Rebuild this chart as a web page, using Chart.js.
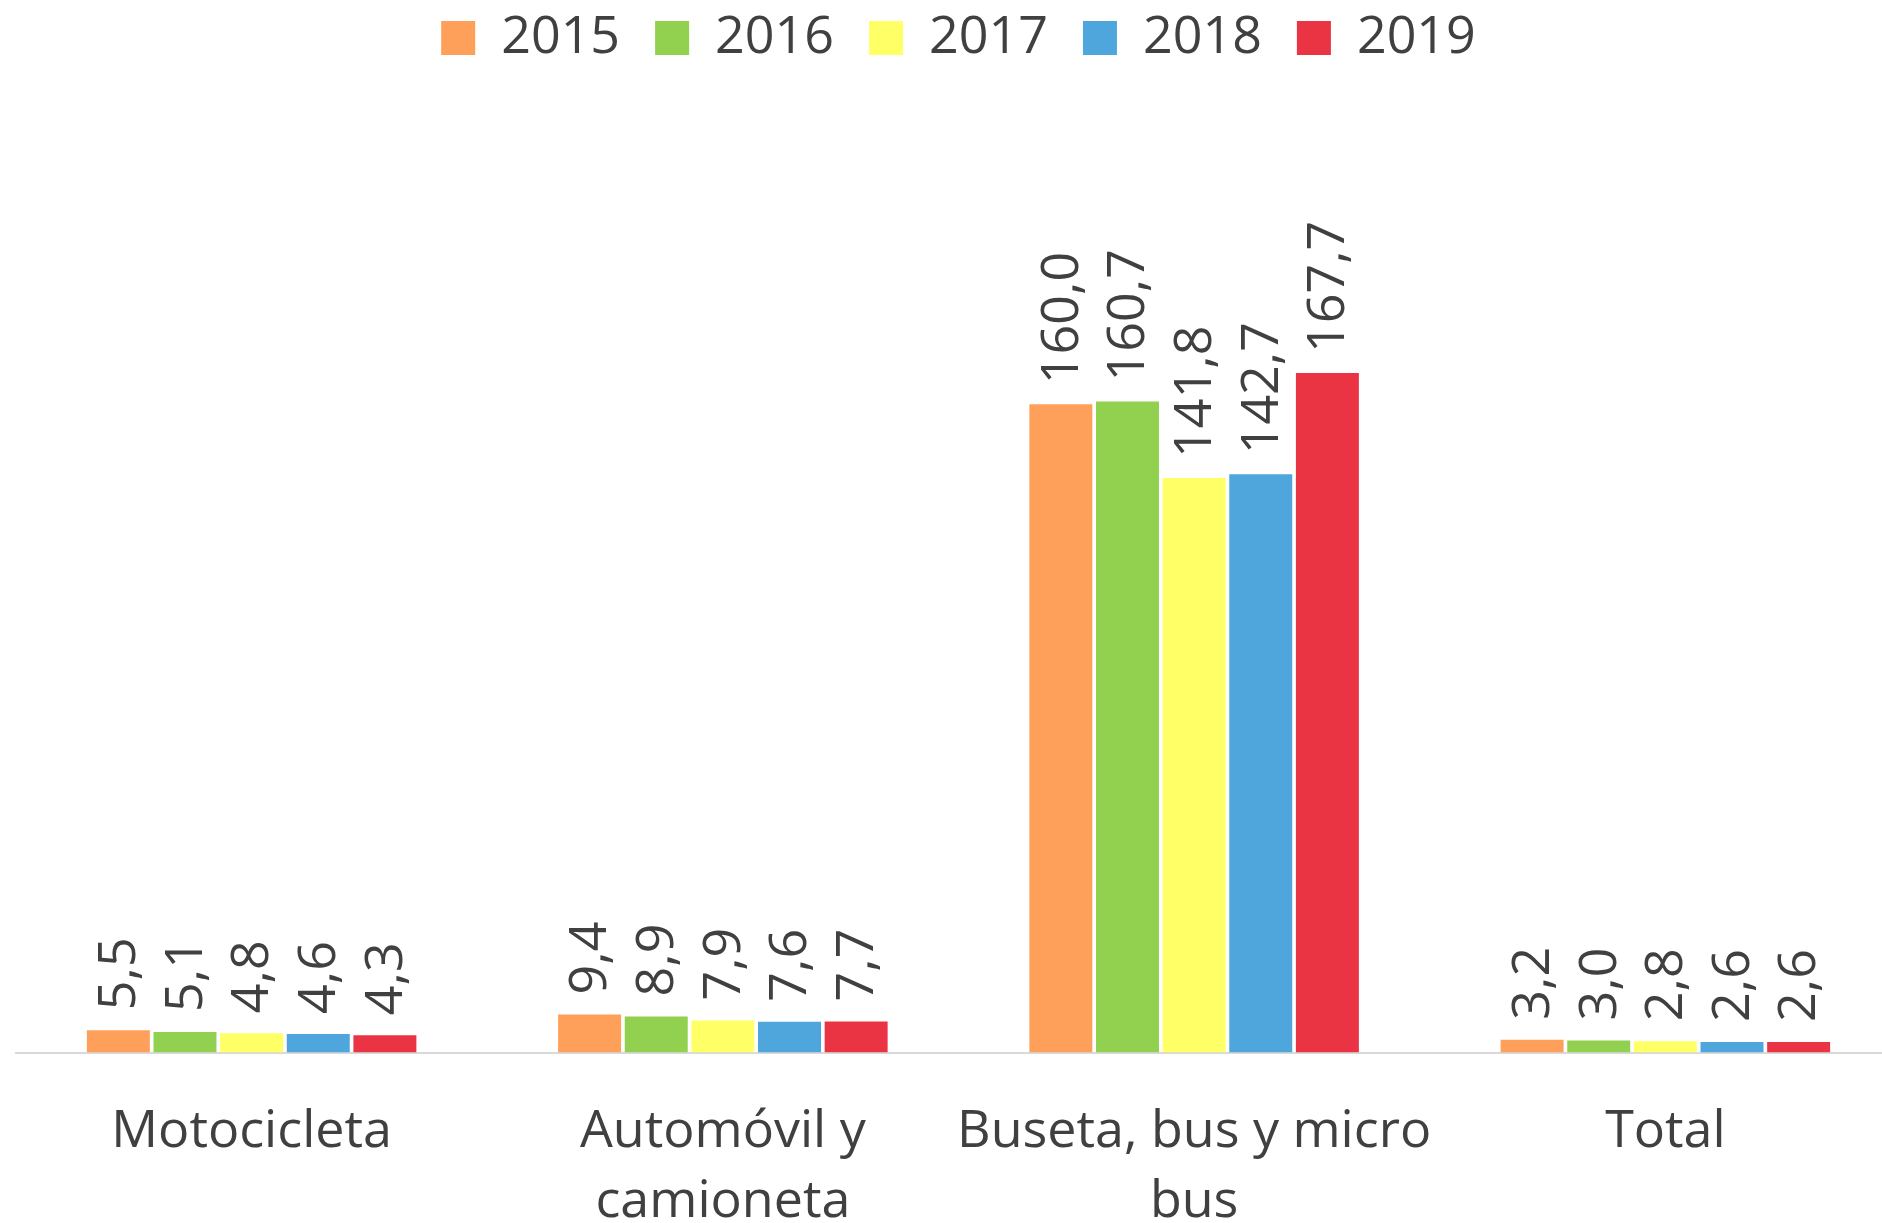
<!DOCTYPE html>
<html>
<head>
<meta charset="utf-8">
<script src="https://cdn.jsdelivr.net/npm/chart.js@4.4.1/dist/chart.umd.min.js"></script>
<style>
  html, body { margin: 0; padding: 0; background: #fff; overflow: hidden; }
  #wrap { width: 1920px; height: 1281px; position: relative; }
</style>
</head>
<body>
<div id="wrap"><canvas id="tasaChart"></canvas></div>
<script>
// categorias y series por año
var categorias = [['Motocicleta'], ['Automóvil y', 'camioneta'], ['Buseta, bus y micro', 'bus'], ['Total']]
var anios = ['2015', '2016', '2017', '2018', '2019']
var v2015 = [5.5, 9.4, 160.0, 3.2]
var v2016 = [5.1, 8.9, 160.7, 3.0]
var v2017 = [4.8, 7.9, 141.8, 2.8]
var v2018 = [4.6, 7.6, 142.7, 2.6]
var v2019 = [4.3, 7.7, 167.7, 2.6]
var colores = ['#FFA05A', '#92D050', '#FFFF66', '#4FA6DC', '#EA3443']

var series = [v2015, v2016, v2017, v2018, v2019]
var fuente = "'Open Sans', 'Noto Sans', sans-serif"
var gris = '#404040'

// etiquetas verticales encima de cada barra
var etiquetasBarras = {
  id: 'etiquetasBarras',
  afterDatasetsDraw: function (chart) {
    var ctx = chart.ctx
    ctx.save()
    ctx.font = '52px ' + fuente
    ctx.fillStyle = gris
    ctx.textAlign = 'left'
    ctx.textBaseline = 'middle'
    chart.data.datasets.forEach(function (ds, i) {
      chart.getDatasetMeta(i).data.forEach(function (bar, j) {
        var txt = ds.data[j].toFixed(1).replace('.', ',')
        ctx.save()
        ctx.translate(bar.x, bar.y - 20)
        ctx.rotate(-Math.PI / 2)
        ctx.fillText(txt, 0, 2)
        ctx.restore()
      })
    })
    ctx.restore()
  }
}

var datasets = anios.map(function (a, i) {
  return {
    label: a,
    data: series[i],
    backgroundColor: colores[i],
    borderWidth: 0,
    barPercentage: 0.945,
    categoryPercentage: 0.707
  }
})

var canvas = document.getElementById('tasaChart').getContext('2d')
new Chart(canvas, {
  type: 'bar',
  data: { labels: categorias, datasets: datasets },
  plugins: [etiquetasBarras],
  options: {
    responsive: true,
    maintainAspectRatio: false,
    animation: false,
    layout: { padding: { left: 16, right: 19, top: -23, bottom: 0 } },
    plugins: {
      legend: {
        position: 'top',
        labels: {
          boxWidth: 34,
          boxHeight: 34,
          padding: 35,
          color: gris,
          font: { family: fuente, size: 52 }
        }
      },
      tooltip: { enabled: false }
    },
    scales: {
      x: {
        grid: { display: false, drawTicks: false },
        border: { display: true, color: '#D9D9D9', width: 2 },
        ticks: {
          color: gris,
          padding: 44,
          maxRotation: 0,
          autoSkip: false,
          font: { family: fuente, size: 52, lineHeight: 1.35 }
        }
      },
      y: {
        display: false,
        min: 0,
        max: 241.5
      }
    }
  }
})
</script>
</body>
</html>
